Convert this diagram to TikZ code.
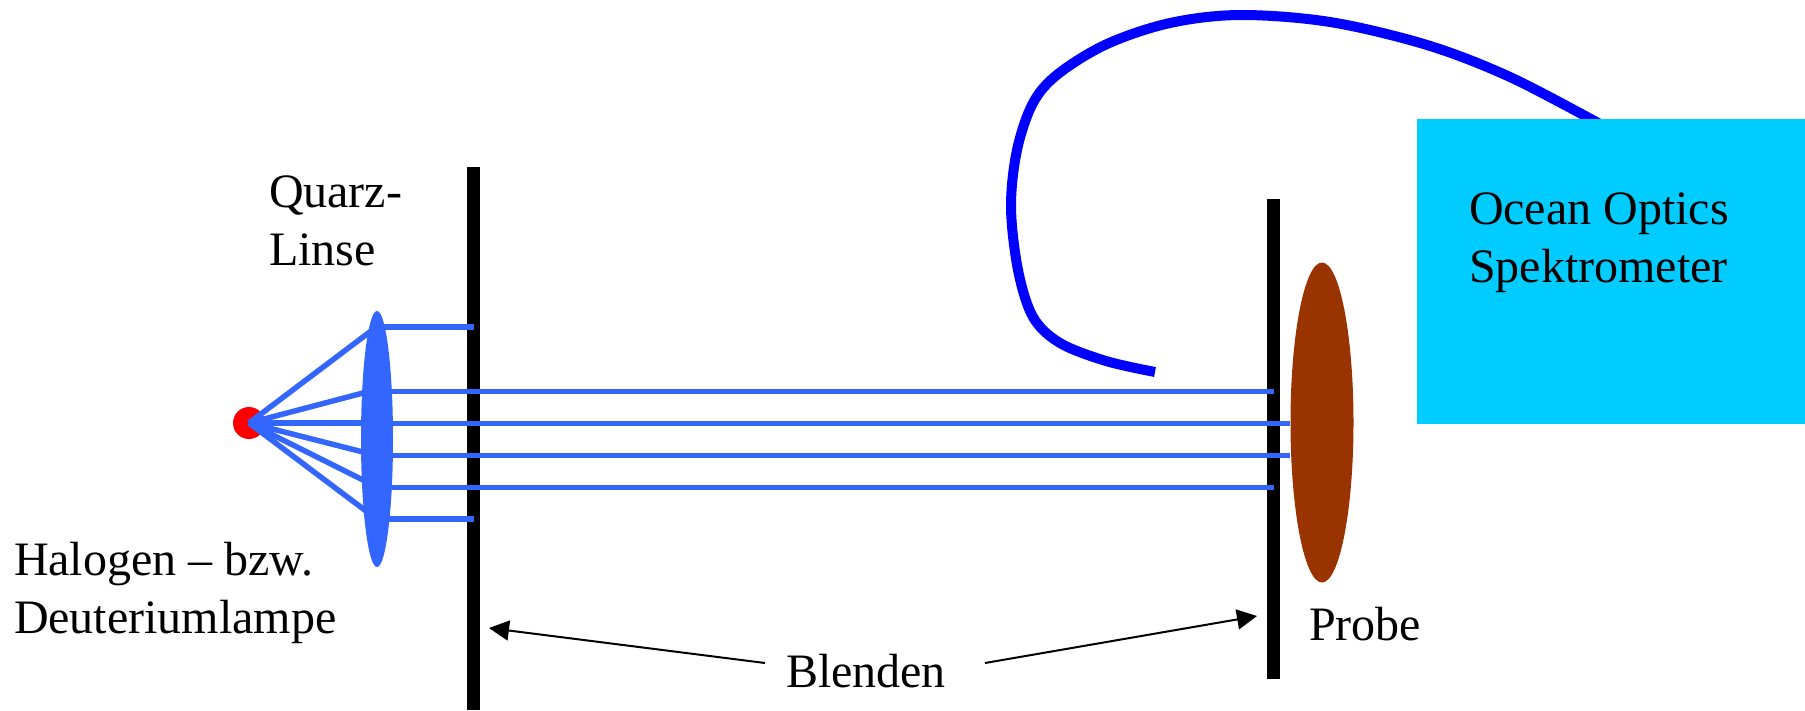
\documentclass[tikz,border=0pt]{standalone}
\usepackage{fontspec}
\setmainfont{Liberation Serif}
\usetikzlibrary{arrows.meta,shapes.geometric}
\definecolor{raycol}{HTML}{3366FF}
\definecolor{fibercol}{HTML}{0000FF}
\definecolor{boxcol}{HTML}{00CCFF}
\definecolor{samplecol}{HTML}{993300}
\tikzset{
  label/.style={anchor=base west,inner sep=0pt,outer sep=0pt,align=left,font=\fontsize{48}{58}\selectfont,text=black},
  slit/.style={fill=black,draw=none,inner sep=0pt,outer sep=0pt,minimum width=13pt},
  oval/.style={ellipse,draw=none,inner sep=0pt,outer sep=0pt},
  ray/.style={draw=raycol,line width=5.5pt},
  pointer/.style={draw=black,line width=2pt,-{Triangle[length=20pt,width=20pt]}},
  fiber/.style={draw=fibercol,line width=10pt}
}
\begin{document}
\begin{tikzpicture}[x=1pt,y=-1pt]
\useasboundingbox (0,0) rectangle (1805,710);
% fibre
\draw[fiber] plot[smooth,tension=0.55] coordinates {(1155,372) (1106,361) (1060,343) (1033,317) (1018,270) (1011,207) (1017,150) (1033,103) (1058,74) (1107,44) (1170,23) (1240,15) (1330,22) (1427,45) (1510,77) (1600,124)};
% boxes
\node[fill=boxcol,draw=none,inner sep=0pt,outer sep=0pt,minimum width=388pt,minimum height=305pt,anchor=north west] (spec) at (1417,118.5) {};
\node[slit,minimum height=543pt,anchor=north west] (slitA) at (467,167) {};
\node[slit,minimum height=480pt,anchor=north west] (slitB) at (1267,199) {};
\node[oval,fill=red,minimum width=32pt,minimum height=32pt] (lamp) at (249,423) {};
\node[oval,fill=raycol,minimum width=32pt,minimum height=256pt] (lens) at (377,439) {};
\node[oval,fill=samplecol,minimum width=63pt,minimum height=320pt] (sample) at (1322,422.5) {};
% ray end points
\coordinate (lampC) at (249,423);
\coordinate (iA) at (371,331);
\coordinate (iB) at (363,393);
\coordinate (iC) at (363,423);
\coordinate (iD) at (363,452);
\coordinate (iE) at (363,480);
\coordinate (iF) at (366,511);
\coordinate (oA) at (383,327);
\coordinate (oB) at (391,391.3);
\coordinate (oC) at (393,423.3);
\coordinate (oD) at (393,455.3);
\coordinate (oE) at (391,487.3);
\coordinate (oF) at (388,519);
\coordinate (eA) at (473.5,327);
\coordinate (eB) at (1273.5,391.3);
\coordinate (eC) at (1290,423.3);
\coordinate (eD) at (1290,455.3);
\coordinate (eE) at (1273.5,487.3);
\coordinate (eF) at (473.5,519);
\foreach \p in {iA,iB,iC,iD,iE,iF}{\draw[ray] (lampC) -- (\p);}
\foreach \s/\e in {oA/eA,oB/eB,oC/eC,oD/eD,oE/eE,oF/eF}{\draw[ray] (\s) -- (\e);}
% labels
\node[label] (quarz) at (269,265.5) {Quarz-\\Linse};
\node[label] (lampL) at (14,633) {Halogen -- bzw.\\Deuteriumlampe};
\node[label] (blenden) at (786,687) {Blenden};
\node[label] (probe) at (1309,640) {Probe};
\node[label] (specL) at (1469,282) {Ocean Optics\\Spektrometer};
% pointers
\coordinate (pA0) at (765,663);
\coordinate (pA1) at (489,628);
\coordinate (pB0) at (985,663);
\coordinate (pB1) at (1257,616);
\draw[pointer] (pA0) -- (pA1);
\draw[pointer] (pB0) -- (pB1);
\end{tikzpicture}
\end{document}
